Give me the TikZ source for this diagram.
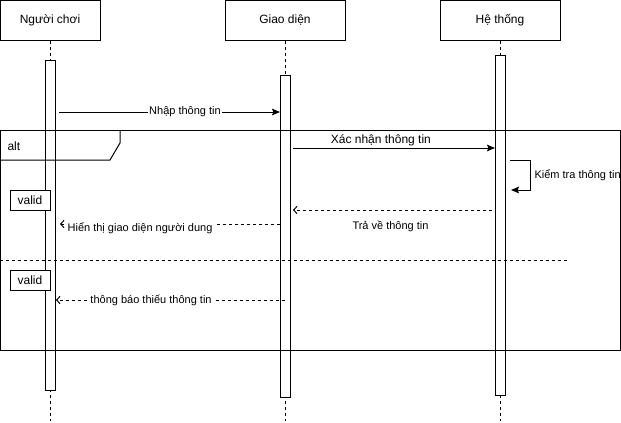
\documentclass[tikz,border=0pt]{standalone}
\usepackage{fontspec}
\setmainfont{Liberation Sans}
\usetikzlibrary{arrows.meta,positioning}
\tikzset{
  actor/.style={draw,minimum width=90pt,minimum height=30pt,inner sep=0pt},
  lifeline/.style={dash pattern=on 2.25pt off 2.25pt},
  actbar/.style={draw,fill=white,minimum width=7.5pt,inner sep=0pt},
  msg/.style={-{Stealth[length=6pt,width=5pt,inset=1pt]}},
  reply/.style={dash pattern=on 2.25pt off 2.25pt,-{Straight Barb[length=2.5pt,width=5.5pt]}},
  msglabel/.style={font=\fontsize{8.25}{9.5}\selectfont,inner sep=1pt},
  guard/.style={draw,fill=white,minimum width=30pt,minimum height=15pt,inner sep=0pt},
}
\newcommand{\activation}[4]{\node[actbar,minimum height={(#4-#3)*0.75pt}] (#1) at (#2,{(#3+#4)/2}) {};}

\begin{document}
\begin{tikzpicture}[x=0.75pt,y=-0.75pt,line width=0.75pt,font=\fontsize{9}{10.8}\selectfont]
		\useasboundingbox (0,0) rectangle (621,422);
		\node[actor,minimum width=75pt] (player) at (50,20) {Người chơi};
		\node[actor] (ui) at (285,20) {Giao diện};
		\node[actor] (sys) at (500,20) {Hệ thống};
		\coordinate (playerend) at (50,421);
		\coordinate (uiend) at (285,421);
		\coordinate (sysend) at (500,421);
		\draw[lifeline] (player) -- (playerend);
		\draw[lifeline] (ui) -- (uiend);
		\draw[lifeline] (sys) -- (sysend);
		\activation{playerbar}{50}{60}{390}
		\activation{uibar}{285}{75}{397}
		\activation{sysbar}{500}{55}{395}
		\draw (0,130) rectangle (620,350);
		\draw (0,160) -- (110,160) -- (120,143) -- (120,130);
		\node[anchor=west,inner sep=0pt] (altlabel) at (7,146) {alt};
		\draw[lifeline] (0,260) -- (567,260);
		\coordinate (m1a) at (59,112);
		\coordinate (m1b) at (280,112);
		\coordinate (m2a) at (293,148);
		\coordinate (m2b) at (495,148);
		\coordinate (s1a) at (510,160);
		\coordinate (s1b) at (511,190);
		\coordinate (r1a) at (492,210);
		\coordinate (r1b) at (293,210);
		\coordinate (r2a) at (280,224);
		\coordinate (r2b) at (60,224);
		\coordinate (r3a) at (285,300);
		\coordinate (r3b) at (56,300);
		\draw[msg] (m1a) -- node[msglabel,fill=white,pos=0.57] {Nhập thông tin} (m1b);
		\draw[msg] (m2a) -- node[pos=0.435,above,inner sep=1pt] {Xác nhận thông tin} (m2b);
		\draw[msg] (s1a) -- (530,160) -- node[msglabel,right=2pt] {Kiểm tra thông tin} (530,190) -- (s1b);
		\draw[reply] (r1a) -- node[msglabel,pos=0.51,below=7pt] {Trả về thông tin} (r1b);
		\draw[reply] (r2a) -- node[msglabel,fill=white,pos=0.636,yshift=-3pt] {Hiển thị giao diện người dung} (r2b);
		\draw[reply] (r3a) -- node[msglabel,fill=white,pos=0.585] {thông báo thiếu thông tin} (r3b);
		\node[guard] (valid1) at (30,200) {valid};
		\node[guard] (valid2) at (30,280) {valid};
\end{tikzpicture}
\end{document}
